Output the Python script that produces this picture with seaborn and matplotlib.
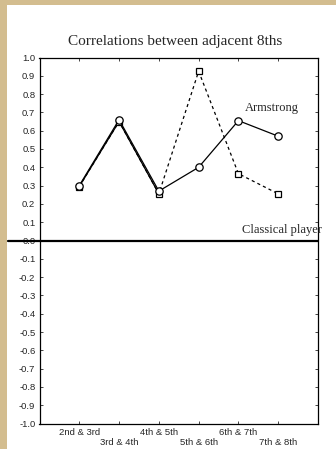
import matplotlib
matplotlib.use("Agg")
import matplotlib.pyplot as plt
import seaborn as sns
import pandas as pd
from matplotlib.patches import Rectangle

categories = ["2nd & 3rd", "3rd & 4th", "4th & 5th", "5th & 6th", "6th & 7th", "7th & 8th"]
armstrong = [0.30, 0.66, 0.27, 0.40, 0.655, 0.57]
classical = [0.295, 0.65, 0.255, 0.925, 0.365, 0.255]
y_ticks = [round(-1.0 + 0.1 * i, 1) for i in range(21)]
y_tick_labels = [f"{v:.1f}" for v in y_ticks]
title = "Correlations between adjacent 8ths"

sns.set_style("ticks")
plt.rcParams["font.family"] = ["Liberation Sans", "DejaVu Sans"]
plt.rcParams["axes.unicode_minus"] = False

W, H = 336, 449
fig = plt.figure(figsize=(W / 100, H / 100), dpi=100)
fig.patch.set_facecolor("#d3bd8f")
fig.patches.append(Rectangle((7 / W, 0), 1, (H - 5) / H, transform=fig.transFigure,
                             facecolor="white", edgecolor="none", zorder=-10))

left, right, top, bottom = 39.5, 318, 57.5, 423.5
ax = fig.add_axes([left / W, (H - bottom) / H, (right - left) / W, (bottom - top) / H])
ax.set_facecolor("white")

idx = list(range(len(categories)))
df_a = pd.DataFrame({"x": idx, "y": armstrong})
df_c = pd.DataFrame({"x": idx, "y": classical})

sns.lineplot(data=df_c, x="x", y="y", ax=ax, color="black", lw=0.9,
             linestyle=(0, (2.5, 2.5)), marker="s", markersize=5.0,
             markerfacecolor="white", markeredgecolor="black", markeredgewidth=0.9)
sns.lineplot(data=df_a, x="x", y="y", ax=ax, color="black", lw=0.9,
             marker="o", markersize=5.3,
             markerfacecolor="white", markeredgecolor="black", markeredgewidth=0.9)
# solid segment shared by both over first three points
ax.plot(idx[:3], classical[:3], color="black", lw=0.9, zorder=1)

ax.axhline(0, xmin=(8 - left) / (right - left), xmax=1, color="black", lw=1.6,
           clip_on=False, zorder=3)

ax.set_xlim(-1, 6)
ax.set_ylim(-1.0, 1.0)
ax.set_yticks(y_ticks)
ax.set_yticklabels(y_tick_labels, fontsize=6.8)
ax.set_xticks(idx)
labels = [c if i % 2 == 0 else "\n" + c for i, c in enumerate(categories)]
ax.set_xticklabels(labels, fontsize=6.8, linespacing=1.25)
ax.tick_params(axis="both", direction="in", length=2, width=0.6,
               top=True, right=True, pad=3)
ax.set_xlabel("")
ax.set_ylabel("")
for s in ax.spines.values():
    s.set_linewidth(0.9)
    s.set_color("black")

serif = ["Liberation Serif", "DejaVu Serif"]
ax.text(4.16, 0.724, "Armstrong", fontsize=9, family=serif, va="center", ha="left")
ax.text(4.09, 0.057, "Classical player", fontsize=9, family=serif, va="center", ha="left",
        clip_on=False)

fig.text(175.5 / W, 1 - 41.7 / H, title, fontsize=11, family=serif, ha="center", va="center")

fig.savefig("out.png", dpi=100, facecolor=fig.get_facecolor())
